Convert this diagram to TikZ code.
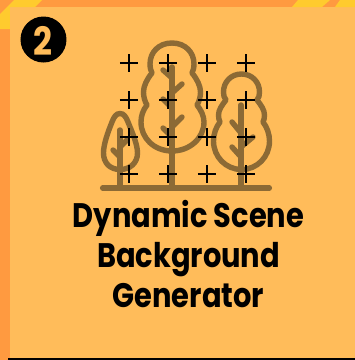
\documentclass[tikz,border=0pt]{standalone}
\usepackage{fontspec}
\setmainfont{Poppins}
\definecolor{cardfill}{HTML}{FFBC5A}
\definecolor{bandfill}{HTML}{FF9A40}
\definecolor{stripefill}{HTML}{FFCB2E}
\definecolor{treeline}{HTML}{8C6A35}
\tikzset{treestroke/.style={draw=treeline, line width=5.4pt, line cap=round, line join=round}}
\tikzset{crossline/.style={draw=black, line width=2.4pt}}
\tikzset{titleline/.style={font=\fontsize{34}{34}\selectfont\bfseries, text=black, inner sep=0pt, xscale=.85, anchor=base}}

\begin{document}
\begin{tikzpicture}[x=1pt, y=-1pt]
      \useasboundingbox (0, 0) rectangle (355, 360);
      % background
      \fill[bandfill] (0, 0) rectangle (355, 360);
      \fill[cardfill] (10, 7) rectangle (355, 358);
      \fill[stripefill] (14, 0) -- (42, 0) -- (35, 7) -- (10, 7) -- (10, 29) -- (0, 29) -- (0, 14) -- cycle;
      \fill[stripefill] (298, 0) -- (330, 0) -- (322, 7) -- (292, 7) -- cycle;
      \fill[stripefill] (340, 0) -- (355, 0) -- (355, 7) -- (335, 7) -- cycle;
      \fill[black] (8, 358) rectangle (355, 360);
      % badge
      \node[circle, fill=black, minimum size=46pt, inner sep=0pt] (badge) at (43.5, 39.5) {};
      \node[font=\fontsize{39}{39}\selectfont\bfseries, text=cardfill, inner sep=0pt, xscale=.85] (number) at (43, 41) {2};
      % crowns
      \draw[treestroke] (120, 113.5) .. controls (124, 113.5) and (126, 117) .. (128, 122) .. controls (132, 132) and (137.5, 144) .. (137.5, 153) .. controls (137.5, 163) and (130, 169.5) .. (120, 169.5) .. controls (110, 169.5) and (103.5, 163) .. (103.5, 153) .. controls (103.5, 144) and (108, 132) .. (112, 122) .. controls (114, 117) and (116, 113.5) .. (120, 113.5) -- cycle;
      \draw[treestroke] (172, 43) .. controls (185, 43) and (194, 52) .. (194, 64) .. controls (194, 68) and (193, 71) .. (192, 73) .. controls (197, 79) and (200.5, 86) .. (200.5, 92) .. controls (200.5, 97) and (199, 102) .. (197, 105) .. controls (201, 110) and (204, 116) .. (204, 122) .. controls (204, 138) and (190, 151) .. (172, 151) .. controls (154, 151) and (141, 138) .. (141, 122) .. controls (141, 116) and (143, 110) .. (147, 105) .. controls (145, 102) and (143.5, 97) .. (143.5, 92) .. controls (143.5, 86) and (147, 79) .. (152, 73) .. controls (151, 71) and (150, 68) .. (150, 64) .. controls (150, 52) and (159, 43) .. (172, 43) -- cycle;
      \draw[treestroke] (241.5, 74) .. controls (252, 74) and (259.5, 82) .. (259.5, 92) .. controls (259.5, 95) and (259, 98) .. (257, 100) .. controls (261, 105) and (264.5, 110) .. (264.5, 115) .. controls (264.5, 118) and (264, 120) .. (263, 122) .. controls (267, 127) and (269.5, 134) .. (269.5, 141) .. controls (269.5, 157) and (257, 169.5) .. (241.5, 169.5) .. controls (226, 169.5) and (213.5, 157) .. (213.5, 141) .. controls (213.5, 134) and (216, 127) .. (220, 122) .. controls (219, 120) and (218.5, 118) .. (218.5, 115) .. controls (218.5, 110) and (222, 105) .. (226, 100) .. controls (224, 98) and (223.5, 95) .. (223.5, 92) .. controls (223.5, 82) and (231, 74) .. (241.5, 74) -- cycle;
      % trunks
      \draw[treestroke] (120, 130) -- (120, 188);
      \draw[treestroke] (172, 67) -- (172, 188);
      \draw[treestroke] (241, 105) -- (241, 188);
      % branches
      \draw[treestroke] (113, 150) -- (120, 157);
      \draw[treestroke] (127, 140) -- (120, 147);
      \draw[treestroke] (163, 70) -- (172, 78);
      \draw[treestroke] (182, 84) -- (172, 93);
      \draw[treestroke] (163, 99) -- (172, 108);
      \draw[treestroke] (182, 117) -- (172, 127);
      \draw[treestroke] (163, 128) -- (172, 137);
      \draw[treestroke] (232, 122) -- (241, 133);
      \draw[treestroke] (253, 137) -- (241, 147);
      \draw[treestroke] (232, 147) -- (241, 157);
      % ground
      \draw[treestroke, line width=5.5pt] (102.7, 188) -- (269.3, 188);
      % crosses
      \foreach \px in {129, 168, 207, 246} {
        \foreach \py in {63, 100, 137, 174} {
          \draw[crossline] (\px - 9, \py) -- (\px + 9, \py);
          \draw[crossline] (\px, \py - 9) -- (\px, \py + 9);
        }
      }
      % title
      \node[titleline] (titlea) at (188.5, 227) {Dynamic Scene};
      \node[titleline] (titleb) at (188.5, 267) {Background};
      \node[titleline] (titlec) at (188.5, 307) {Generator};
    \end{tikzpicture}
\end{document}
